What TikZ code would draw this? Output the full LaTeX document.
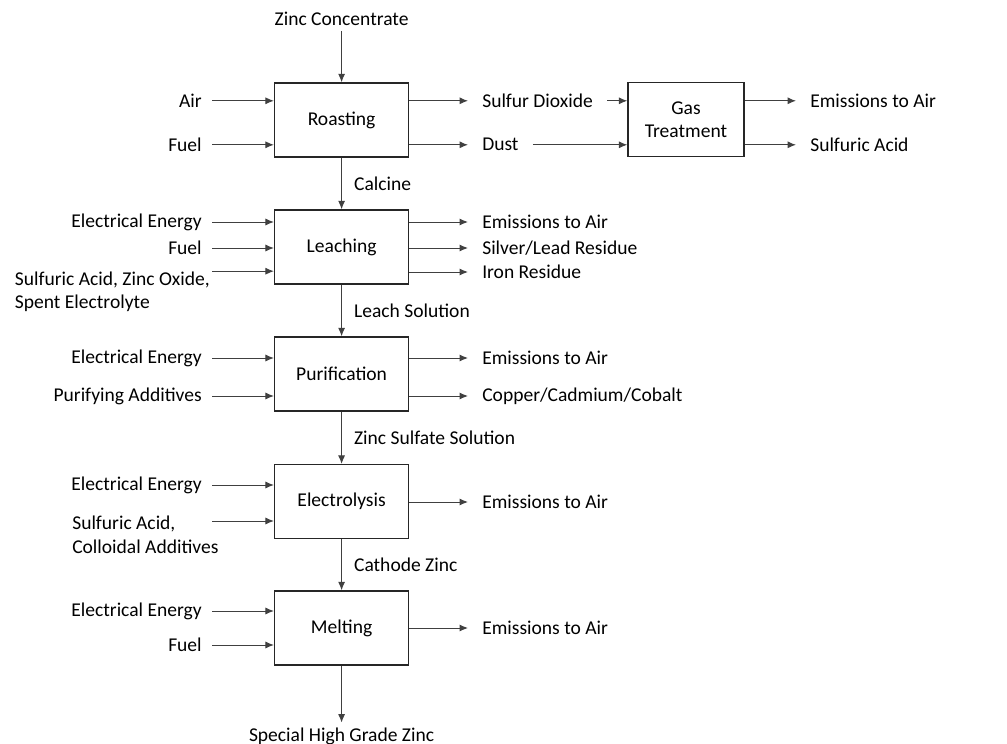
\documentclass[tikz,border=0pt]{standalone}
\usepackage{fontspec}
\setmainfont{Carlito}
\usetikzlibrary{arrows.meta,positioning,calc}

\begin{document}
\begin{tikzpicture}[
    font=\fontsize{13.9}{16.5}\selectfont,
    box/.style={draw=black!85, line width=1pt,
      minimum width=3.35cm, minimum height=1.85cm, align=center},
    arr/.style={->, >={Latex[length=6pt,width=5pt]}, line width=0.7pt, draw=black!75},
    inp/.style={anchor=east, inner xsep=0.25cm},
    outp/.style={anchor=west, inner xsep=0.35cm},
    flow/.style={right, inner xsep=0.3cm}
  ]
  \useasboundingbox (0,0) rectangle (25.175,-18.6);

  % Process spine
  \node[box] (roast) at (8.54,-3.0)   {Roasting};
  \node[box] (leach) at (8.54,-6.175) {Leaching};
  \node[box] (purif) at (8.54,-9.35)  {Purification};
  \node[box] (elec)  at (8.54,-12.54) {Electrolysis};
  \node[box] (melt)  at (8.54,-15.7)  {Melting};
  \node[box, minimum width=2.9cm] (gas) at (17.15,-2.99) {Gas\\ Treatment};

  % Feed and product
  \node (conc) at (8.54,-0.475) {Zinc Concentrate};
  \node (shg)  at (8.54,-18.4)  {Special High Grade Zinc};

  % Inputs
  \node[inp] (r-air)  at (5.3,-2.52)  {Air};
  \node[inp] (r-fuel) at (5.3,-3.62)  {Fuel};
  \node[inp] (l-el)   at (5.3,-5.55)  {Electrical Energy};
  \node[inp] (l-fuel) at (5.3,-6.2)   {Fuel};
  \node[inp, anchor=north east, inner xsep=0.05cm, inner ysep=0pt, align=left] (l-acid) at (5.3,-6.78)
    {Sulfuric Acid, Zinc Oxide,\\ Spent Electrolyte};
  \node[inp] (p-el)   at (5.3,-8.95)  {Electrical Energy};
  \node[inp] (p-add)  at (5.3,-9.9)   {Purifying Additives};
  \node[inp] (e-el)   at (5.3,-12.125) {Electrical Energy};
  \node[anchor=north west, inner sep=0pt, align=left] (e-acid) at (1.8,-12.9)
    {Sulfuric Acid,\\ Colloidal Additives};
  \coordinate (e-acid-in) at (5.3,-13.025);
  \node[inp] (m-el)   at (5.3,-15.275) {Electrical Energy};
  \node[inp] (m-fuel) at (5.3,-16.125) {Fuel};

  % Outputs
  \node[outp] (r-so2)  at (11.7,-2.52)  {Sulfur Dioxide};
  \node[outp] (r-dust) at (11.7,-3.62)  {Dust};
  \node[outp] (g-em)   at (19.9,-2.52)  {Emissions to Air};
  \node[outp] (g-acid) at (19.9,-3.62)  {Sulfuric Acid};
  \node[outp] (l-em)   at (11.7,-5.55)  {Emissions to Air};
  \node[outp] (l-ag)   at (11.7,-6.2)   {Silver/Lead Residue};
  \node[outp] (l-fe)   at (11.7,-6.8)   {Iron Residue};
  \node[outp] (p-em)   at (11.7,-8.95)  {Emissions to Air};
  \node[outp] (p-cu)   at (11.7,-9.9)   {Copper/Cadmium/Cobalt};
  \node[outp] (e-em)   at (11.7,-12.55) {Emissions to Air};
  \node[outp] (m-em)   at (11.7,-15.7)  {Emissions to Air};

  % Main flow
  \draw[arr] (conc) -- (roast);
  \draw[arr] (roast) -- node[flow]{Calcine} (leach);
  \draw[arr] (leach) -- node[flow]{Leach Solution} (purif);
  \draw[arr] (purif) -- node[flow]{Zinc Sulfate Solution} (elec);
  \draw[arr] (elec)  -- node[flow]{Cathode Zinc} (melt);
  \draw[arr] (melt)  -- (shg);

  % Input arrows
  \draw[arr] (r-air)  -- (r-air -| roast.west);
  \draw[arr] (r-fuel) -- (r-fuel -| roast.west);
  \draw[arr] (l-el)   -- (l-el -| leach.west);
  \draw[arr] (l-fuel) -- (l-fuel -| leach.west);
  \draw[arr] (l-acid.north east) -- (l-acid.north east -| leach.west);
  \draw[arr] (p-el)   -- (p-el -| purif.west);
  \draw[arr] (p-add)  -- (p-add -| purif.west);
  \draw[arr] (e-el)   -- (e-el -| elec.west);
  \draw[arr] (e-acid-in) -- (e-acid-in -| elec.west);
  \draw[arr] (m-el)   -- (m-el -| melt.west);
  \draw[arr] (m-fuel) -- (m-fuel -| melt.west);

  % Output arrows
  \draw[arr] (roast.east |- r-so2)  -- (r-so2);
  \draw[arr] (roast.east |- r-dust) -- (r-dust);
  \draw[arr] (r-so2)  -- (r-so2 -| gas.west);
  \draw[arr] (r-dust) -- (r-dust -| gas.west);
  \draw[arr] (gas.east |- g-em)   -- (g-em);
  \draw[arr] (gas.east |- g-acid) -- (g-acid);
  \draw[arr] (leach.east |- l-em) -- (l-em);
  \draw[arr] (leach.east |- l-ag) -- (l-ag);
  \draw[arr] (leach.east |- l-fe) -- (l-fe);
  \draw[arr] (purif.east |- p-em) -- (p-em);
  \draw[arr] (purif.east |- p-cu) -- (p-cu);
  \draw[arr] (elec.east |- e-em)  -- (e-em);
  \draw[arr] (melt.east |- m-em)  -- (m-em);
\end{tikzpicture}
\end{document}
